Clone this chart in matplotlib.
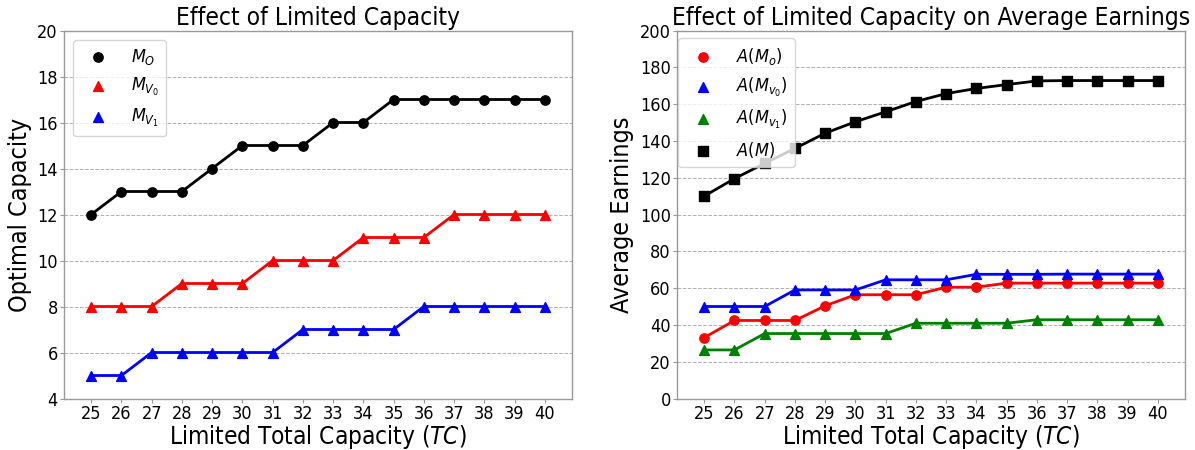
import matplotlib
matplotlib.use("Agg")
import matplotlib.pyplot as plt

plt.rcParams["font.family"] = ["DejaVu Sans"]
plt.rcParams["font.stretch"] = "condensed"
plt.rcParams["mathtext.fontset"] = "custom"
plt.rcParams["mathtext.rm"] = "DejaVu Sans:stretch=condensed"
plt.rcParams["mathtext.it"] = "DejaVu Sans:italic:stretch=condensed"

tc = list(range(25, 41))

# Optimal capacity per limited total capacity
m_o = [12, 13, 13, 13, 14, 15, 15, 15, 16, 16, 17, 17, 17, 17, 17, 17]
m_v0 = [8, 8, 8, 9, 9, 9, 10, 10, 10, 11, 11, 11, 12, 12, 12, 12]
m_v1 = [5, 5, 6, 6, 6, 6, 6, 7, 7, 7, 7, 8, 8, 8, 8, 8]

# Average earnings
a_mo = [33.1, 42.4, 42.4, 42.4, 50.4, 56.4, 56.4, 56.4, 60.5, 60.5, 62.7, 62.7, 62.7, 62.7, 62.7, 62.7]
a_mv0 = [50.0, 50.0, 50.0, 59.0, 59.0, 59.0, 64.5, 64.5, 64.5, 67.5, 67.5, 67.5, 67.6, 67.6, 67.6, 67.6]
a_mv1 = [26.4, 26.4, 35.3, 35.3, 35.3, 35.3, 35.3, 40.9, 40.9, 40.9, 40.9, 42.8, 42.8, 42.8, 42.8, 42.8]
a_m = [110.0, 119.5, 127.8, 135.9, 144.2, 150.4, 155.8, 161.4, 165.7, 168.5, 170.6, 172.6, 172.8, 172.8, 172.8, 172.8]

fig = plt.figure(figsize=(11.95, 4.5), dpi=100)
ax1 = fig.add_axes([64 / 1195, 51.5 / 450, 508 / 1195, 368 / 450])
ax2 = fig.add_axes([677 / 1195, 51.5 / 450, 508 / 1195, 368 / 450])

for ax in (ax1, ax2):
    ax.grid(axis="y", linestyle="--", color="#b0b0b0", linewidth=0.7)
    ax.set_axisbelow(True)
    for s in ax.spines.values():
        s.set_color("#999999")
        s.set_linewidth(1.0)
    ax.set_xticks(tc)
    ax.tick_params(labelsize=13, colors="black", pad=1.5, length=3)
    ax.tick_params(color="#999999")
    ax.set_xlim(24.1, 40.9)
    ax.set_xlabel("Limited Total Capacity ($TC$)", fontsize=17.5, labelpad=0)

leg_kw = dict(fontsize=13, labelspacing=0.5, handletextpad=0.8, borderpad=0.4)

# Left panel
ax1.plot(tc, m_o, color="black", lw=2)
ax1.plot(tc, m_v0, color="red", lw=2)
ax1.plot(tc, m_v1, color="blue", lw=2)
ax1.scatter(tc, m_o, color="black", marker="o", s=45, zorder=3, label="$M_O$")
ax1.scatter(tc, m_v0, color="red", marker="^", s=50, zorder=3, label="$M_{V_0}$")
ax1.scatter(tc, m_v1, color="blue", marker="^", s=50, zorder=3, label="$M_{V_1}$")
ax1.set_ylim(4, 20)
ax1.set_yticks(range(4, 21, 2))
ax1.set_ylabel("Optimal Capacity", fontsize=18)
ax1.set_title("Effect of Limited Capacity", fontsize=17.6, pad=4)
ax1.legend(loc="upper left", **leg_kw)

# Right panel
ax2.plot(tc, a_mo, color="red", lw=2)
ax2.plot(tc, a_mv0, color="blue", lw=2)
ax2.plot(tc, a_mv1, color="green", lw=2)
ax2.plot(tc, a_m, color="black", lw=2)
ax2.scatter(tc, a_mo, color="red", marker="o", s=45, zorder=3, label="$A(M_o)$")
ax2.scatter(tc, a_mv0, color="blue", marker="^", s=50, zorder=3, label="$A(M_{v_0})$")
ax2.scatter(tc, a_mv1, color="green", marker="^", s=50, zorder=3, label="$A(M_{v_1})$")
ax2.scatter(tc, a_m, color="black", marker="s", s=45, zorder=3, label="$A(M)$")
ax2.set_ylim(0, 200)
ax2.set_yticks(range(0, 201, 20))
ax2.set_ylabel("Average Earnings", fontsize=18)
ax2.set_title("Effect of Limited Capacity on Average Earnings", fontsize=17.6, pad=4)
ax2.legend(loc="upper left", bbox_to_anchor=(1 / 508, 1 - 8 / 368),
           borderaxespad=0, **leg_kw)

fig.savefig("out.png", dpi=100)
